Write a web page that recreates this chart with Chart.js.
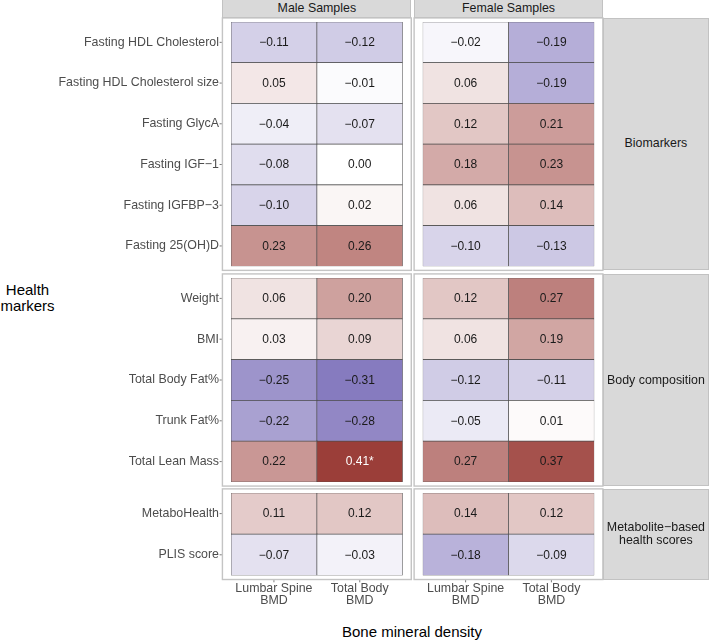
<!DOCTYPE html>
<html lang="en">
<head>
  <meta charset="UTF-8" />
  <title>Bone mineral density vs health markers</title>
  <script src="https://cdn.jsdelivr.net/npm/chart.js"></script>
  <style>
    body {
      margin: 0;
      background: #ffffff;
      font-family: 'Liberation Sans', Arial, Helvetica, sans-serif;
    }
    #wrap {
      position: relative;
      width: 709px;
      height: 641px;
      overflow: hidden;
    }
    #wrap canvas { position: absolute; }
    .strip {
      position: absolute;
      box-sizing: border-box;
      background: #d9d9d9;
      border: 1px solid #c2c2c2;
      color: #1a1a1a;
      font-size: 12.4px;
      line-height: 13.4px;
      display: flex;
      align-items: center;
      justify-content: center;
      text-align: center;
      white-space: nowrap;
    }
    .title {
      position: absolute;
      color: #000;
      font-size: 15px;
      text-align: center;
      white-space: nowrap;
    }
  </style>
</head>
<body>
  <div id="wrap">
    <div class="title" style="left:0; width:55px; top:282px; line-height:16.3px;">Health<br>markers</div>
    <div class="title" style="left:312px; width:200px; top:623px; line-height:18px;">Bone mineral density</div>
  </div>

  <script>
    // facets
    const sexLabels = ['Male Samples', 'Female Samples'];
    const groupNames = ['Biomarkers', 'Body composition', 'Metabolite\u2212based\nhealth scores'];
    const groupRows = [
      ['Fasting HDL Cholesterol', 'Fasting HDL Cholesterol size', 'Fasting GlycA', 'Fasting IGF\u22121', 'Fasting IGFBP\u22123', 'Fasting 25(OH)D'],
      ['Weight', 'BMI', 'Total Body Fat%', 'Trunk Fat%', 'Total Lean Mass'],
      ['MetaboHealth', 'PLIS score']
    ];
    const colLabels = [['Lumbar Spine', 'BMD'], ['Total Body', 'BMD']];

    // correlations, rows in the order above (all groups in sequence)
    const maleLumbar   = [-0.11, 0.05, -0.04, -0.08, -0.10, 0.23, 0.06, 0.03, -0.25, -0.22, 0.22, 0.11, -0.07];
    const maleTotal    = [-0.12, -0.01, -0.07, 0.00, 0.02, 0.26, 0.20, 0.09, -0.31, -0.28, 0.41, 0.12, -0.03];
    const femaleLumbar = [-0.02, 0.06, 0.12, 0.18, 0.06, -0.10, 0.12, 0.06, -0.12, -0.05, 0.27, 0.14, -0.18];
    const femaleTotal  = [-0.19, -0.19, 0.21, 0.23, 0.14, -0.13, 0.27, 0.19, -0.11, 0.01, 0.37, 0.12, -0.09];
    // significant cells: sex, column, row
    const starred = [['Male Samples', 'Total Body', 'Total Lean Mass']];

    const values = [[maleLumbar, maleTotal], [femaleLumbar, femaleTotal]];

    // layout of the cell blocks (pixels)
    const cellsTop = [21.7, 278.3, 493.3];
    const cellsBottom = [266, 482.3, 575.7];
    const cellsX = [[231, 402.7], [422.7, 594.3]];
    const canvasX = [[0, 420], [410, 610]];

    const LIMIT = 0.41;
    const lowCol = [95, 80, 170];
    const highCol = [155, 62, 57];
    function fillFor(v) {
      const t = Math.min(Math.abs(v) / LIMIT, 1);
      const c = v < 0 ? lowCol : highCol;
      const m = c.map(k => Math.round(255 + (k - 255) * t));
      return `rgb(${m[0]},${m[1]},${m[2]})`;
    }
    function fmt(v) {
      return v.toFixed(2).replace('-', '\u2212');
    }

    Chart.defaults.font.family = "'Liberation Sans', Arial, Helvetica, sans-serif";

    function panelRect(chart) {
      const a = chart.chartArea;
      const n = chart.data.labels.length;
      const padX = (a.right - a.left) / 2 * 0.1;
      const padY = (a.bottom - a.top) / n * 0.1;
      return { left: a.left - padX, right: a.right + padX, top: a.top - padY, bottom: a.bottom + padY };
    }

    const panelPlugin = {
      id: 'panel',
      afterDraw(chart, args, opts) {
        const ctx = chart.ctx;
        const p = panelRect(chart);
        ctx.save();
        ctx.strokeStyle = '#c4c4c4';
        ctx.lineWidth = 1.4;
        ctx.strokeRect(p.left, p.top, p.right - p.left, p.bottom - p.top);
        ctx.strokeStyle = '#444';
        ctx.lineWidth = 0.7;
        ctx.beginPath();
        if (opts.yTicks) {
          chart.scales.y.ticks.forEach((t, i) => {
            const y = chart.scales.y.getPixelForTick(i);
            ctx.moveTo(p.left - 2.8, y);
            ctx.lineTo(p.left - 0.7, y);
          });
        }
        if (opts.xTicks) {
          colLabels.forEach((c, i) => {
            const x = chart.scales.x.getPixelForValue(i + 0.5);
            ctx.moveTo(x, p.bottom + 0.7);
            ctx.lineTo(x, p.bottom + 2.8);
          });
        }
        ctx.stroke();
        ctx.restore();
      }
    };

    const cellLabels = {
      id: 'cellLabels',
      afterDatasetsDraw(chart) {
        const ctx = chart.ctx;
        ctx.save();
        ctx.font = "12px 'Liberation Sans', Arial, sans-serif";
        ctx.textAlign = 'center';
        ctx.textBaseline = 'middle';
        chart.data.datasets.forEach((ds, di) => {
          chart.getDatasetMeta(di).data.forEach((el, i) => {
            const c = el.getCenterPoint();
            const star = ds.stars[i];
            ctx.fillStyle = star ? '#ffffff' : '#1a1a1a';
            ctx.fillText(fmt(ds.values[i]) + star, c.x, c.y + 0.5);
          });
        });
        ctx.restore();
      }
    };

    const wrap = document.getElementById('wrap');
    let offset = 0;
    const panels = [];

    groupRows.forEach((rows, gi) => {
      const isBottom = gi === groupRows.length - 1;
      const h = cellsBottom[gi] - cellsTop[gi];
      sexLabels.forEach((sex, si) => {
        const [cx0, cx1] = canvasX[si];
        const W = cx1 - cx0;
        const H = Math.round(10 + h + (isBottom ? 60 : 10));
        const canvas = document.createElement('canvas');
        canvas.width = W;
        canvas.height = H;
        canvas.style.left = cx0 + 'px';
        canvas.style.top = (cellsTop[gi] - 10) + 'px';
        canvas.style.width = W + 'px';
        canvas.style.height = H + 'px';
        wrap.appendChild(canvas);

        const datasets = colLabels.map((col, ci) => {
          const vals = values[si][ci].slice(offset, offset + rows.length);
          return {
            data: rows.map(() => [ci, ci + 1]),
            values: vals,
            stars: rows.map(r => starred.some(s => s[0] === sex && s[1] === col[0] && s[2] === r) ? '*' : ''),
            backgroundColor: vals.map(fillFor),
            borderColor: '#4a4a4a',
            borderWidth: 0.7,
            borderSkipped: false,
            grouped: false,
            barPercentage: 1,
            categoryPercentage: 1
          };
        });

        const chart = new Chart(canvas, {
          type: 'bar',
          data: { labels: rows, datasets },
          options: {
            indexAxis: 'y',
            responsive: false,
            animation: false,
            events: [],
            layout: {
              padding: {
                left: si === 0 ? 0 : cellsX[si][0] - cx0,
                right: cx1 - cellsX[si][1],
                top: 10,
                bottom: isBottom ? 0 : H - 10 - h
              }
            },
            plugins: {
              legend: { display: false },
              tooltip: { enabled: false },
              panel: { yTicks: si === 0, xTicks: isBottom }
            },
            scales: {
              y: {
                type: 'category',
                display: si === 0,
                offset: true,
                grid: { display: false, drawTicks: false },
                border: { display: false },
                ticks: { color: '#4d4d4d', font: { size: 12.4 }, padding: 12 },
                afterFit: (scale) => {
                  if (!scale.options.display) return;
                  scale.width = cellsX[0][0];
                  scale.paddingTop = 0;
                  scale.paddingBottom = 0;
                }
              },
              x: {
                type: 'linear',
                display: isBottom,
                min: 0,
                max: colLabels.length,
                grid: { display: false, drawTicks: false },
                border: { display: false },
                afterBuildTicks: (scale) => {
                  scale.ticks = colLabels.map((c, i) => ({ value: i + 0.5 }));
                },
                ticks: {
                  color: '#4d4d4d',
                  font: { size: 12.4, lineHeight: 1.0 },
                  padding: 7,
                  autoSkip: false,
                  maxRotation: 0,
                  callback: (v, i) => colLabels[i]
                },
                afterFit: (scale) => {
                  if (!scale.options.display) return;
                  scale.height = H - 10 - h;
                  scale.paddingLeft = 0;
                  scale.paddingRight = 0;
                }
              }
            }
          },
          plugins: [panelPlugin, cellLabels]
        });
        const p = panelRect(chart);
        panels.push({ gi, si, left: p.left + cx0, right: p.right + cx0, top: p.top + cellsTop[gi] - 10, bottom: p.bottom + cellsTop[gi] - 10 });
      });
      offset += rows.length;
    });

    function addStrip(text, left, top, width, height) {
      const d = document.createElement('div');
      d.className = 'strip';
      d.style.left = left + 'px';
      d.style.top = top + 'px';
      d.style.width = width + 'px';
      d.style.height = height + 'px';
      d.innerHTML = text.split('\n').join('<br>');
      wrap.appendChild(d);
    }

    // top strips (sex)
    panels.filter(p => p.gi === 0).forEach(p => {
      addStrip(sexLabels[p.si], p.left, -1, p.right - p.left, p.top + 1);
    });
    // right strips (groups)
    panels.filter(p => p.si === 1).forEach(p => {
      addStrip(groupNames[p.gi], p.right, p.top, 709 - p.right, p.bottom - p.top);
    });
  </script>
</body>
</html>
